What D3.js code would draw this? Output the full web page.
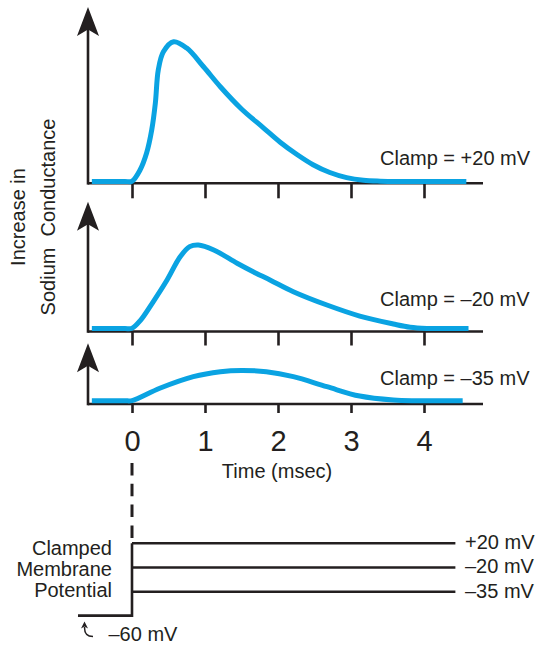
<!DOCTYPE html>
<html><head><meta charset="utf-8">
<script src="https://cdn.jsdelivr.net/npm/d3@7"></script>
<style>
body{margin:0;background:#fff}
text{font-family:"Liberation Sans",Arial,Helvetica,sans-serif;fill:#231f20}
</style>
</head><body>
<svg id="chart" width="542" height="645"></svg>
<script>
// ---------- data ----------
const timeTicks = [0, 1, 2, 3, 4];
const clampNames = ["Clamp = +20 mV", "Clamp = \u201320 mV", "Clamp = \u201335 mV"];

const timeP20 = [-0.55, -0.1, 0, 0.11, 0.2, 0.27, 0.32, 0.36, 0.43, 0.57, 0.75, 0.98, 1.21, 1.50, 1.80, 2.03, 2.26, 2.48, 2.71, 2.94, 3.17, 3.40, 3.7, 4.58];
const condP20 = [0.013, 0.013, 0.015, 0.094, 0.214, 0.376, 0.567, 0.80, 0.929, 1.0, 0.955, 0.823, 0.682, 0.525, 0.392, 0.29, 0.203, 0.131, 0.076, 0.04, 0.021, 0.015, 0.013, 0.013];

const timeM20 = [-0.55, -0.1, 0, 0.11, 0.29, 0.48, 0.66, 0.79, 0.91, 1.12, 1.44, 1.66, 1.89, 2.21, 2.67, 3.12, 3.58, 3.81, 4.04, 4.61];
const condM20 = [0.021, 0.021, 0.023, 0.075, 0.21, 0.364, 0.528, 0.599, 0.611, 0.576, 0.482, 0.422, 0.364, 0.281, 0.187, 0.109, 0.053, 0.030, 0.022, 0.021];

const timeM35 = [-0.55, -0.1, 0, 0.38, 0.84, 1.21, 1.50, 1.84, 2.21, 2.67, 3.12, 3.58, 3.9, 4.53];
const condM35 = [0.023, 0.023, 0.024, 0.111, 0.193, 0.228, 0.237, 0.228, 0.193, 0.122, 0.056, 0.028, 0.023, 0.023];

const clampLevels = ["+20 mV", "\u201320 mV", "\u201335 mV"];
const holdLevel = "\u201360 mV";
const holdTimes = [-0.74, 0];
const clampTimes = [0, 4.43];
const potentialLabel = ["Clamped", "Membrane", "Potential"];
const yLabelLines = ["Increase in", "Sodium\u00a0\u00a0Conductance"];
const xTitle = "Time (msec)";

// ---------- layout ----------
const ink = "#231f20", blue = "#0aa3e2";
const svg = d3.select("#chart");
const x = d3.scaleLinear().domain([0, 4]).range([132, 424]);
const axisX0 = 88, axisX1 = 483;
const k = 141.6;

const panels = [
  {t: timeP20, g: condP20, base: 183.3, tip: 7, tick: 15, label: clampNames[0], ly: 165},
  {t: timeM20, g: condM20, base: 331.5, tip: 201.7, tick: 14, label: clampNames[1], ly: 306},
  {t: timeM35, g: condM35, base: 404, tip: 343.3, tick: 9, label: clampNames[2], ly: 385}
];

panels.forEach((p, i) => {
  const y = d3.scaleLinear().domain([0, 1]).range([p.base, p.base - k]);
  const gp = svg.append("g");
  const ax = d3.axisBottom(x).tickValues(timeTicks).tickSize(p.tick).tickSizeOuter(0)
    .tickPadding(17).tickFormat(i === 2 ? d3.format("d") : () => "");
  const ag = gp.append("g").attr("transform", `translate(0,${p.base})`).call(ax);
  ag.select(".domain").remove();
  ag.selectAll(".tick line").attr("stroke", ink).attr("stroke-width", 2.6);
  ag.selectAll(".tick text").attr("font-size", 29).attr("fill", ink)
    .attr("font-family", '"Liberation Sans",Arial,sans-serif');
  gp.append("line").attr("x1", axisX0).attr("x2", axisX1).attr("y1", p.base).attr("y2", p.base)
    .attr("stroke", ink).attr("stroke-width", 2.6);
  gp.append("line").attr("x1", axisX0).attr("x2", axisX0).attr("y1", p.tip + 12).attr("y2", p.base + 1.3)
    .attr("stroke", ink).attr("stroke-width", 2.6);
  gp.append("path")
    .attr("d", `M${axisX0},${p.tip} L${axisX0 + 11},${p.tip + 29} L${axisX0},${p.tip + 22.5} L${axisX0 - 11},${p.tip + 29} Z`)
    .attr("fill", ink);
  const pts = p.t.map((t, j) => [t, p.g[j]]);
  gp.append("path").datum(pts)
    .attr("d", d3.line().x(d => x(d[0])).y(d => y(d[1])).curve(d3.curveCatmullRom.alpha(0.5)))
    .attr("fill", "none").attr("stroke", blue).attr("stroke-width", 5);
  gp.append("text").attr("x", 380).attr("y", p.ly).attr("font-size", 20).text(p.label);
});

svg.append("text").attr("x", 277).attr("y", 478).attr("text-anchor", "middle")
  .attr("font-size", 20).text(xTitle);

svg.append("text").attr("transform", "translate(25,217) rotate(-90)").attr("text-anchor", "middle")
  .attr("font-size", 20).text(yLabelLines[0]);
svg.append("text").attr("transform", "translate(55,217) rotate(-90)").attr("text-anchor", "middle")
  .attr("font-size", 20).text(yLabelLines[1]);

svg.append("line").attr("x1", x(0)).attr("x2", x(0)).attr("y1", 463).attr("y2", 539)
  .attr("stroke", ink).attr("stroke-width", 3).attr("stroke-dasharray", "12.5 8.3");

const v = d3.scalePoint().domain(clampLevels).range([543.2, 591.7]);
const holdY = 615.6;
svg.append("path")
  .attr("d", `M${x(holdTimes[0])},${holdY} H${x(holdTimes[1])} V${v(clampLevels[0])}`)
  .attr("fill", "none").attr("stroke", ink).attr("stroke-width", 2.6);
clampLevels.forEach(l => {
  svg.append("line").attr("x1", x(clampTimes[0])).attr("x2", x(clampTimes[1]))
    .attr("y1", v(l)).attr("y2", v(l)).attr("stroke", ink).attr("stroke-width", 2.6);
  svg.append("text").attr("x", 465).attr("y", v(l) + 6).attr("font-size", 20).text(l);
});
potentialLabel.forEach((s, i) => {
  svg.append("text").attr("x", 112).attr("y", 555.2 + i * 21).attr("text-anchor", "end")
    .attr("font-size", 20).text(s);
});
svg.append("text").attr("x", 108.5).attr("y", 640.5).attr("font-size", 20).text(holdLevel);
svg.append("path").attr("d", "M93,636.5 C87,636.5 84.5,634 84.5,627")
  .attr("fill", "none").attr("stroke", ink).attr("stroke-width", 1.6);
svg.append("path").attr("d", "M84.5,621.5 L88,628.5 L84.5,626.5 L81,628.5 Z").attr("fill", ink);
</script>
</body></html>
